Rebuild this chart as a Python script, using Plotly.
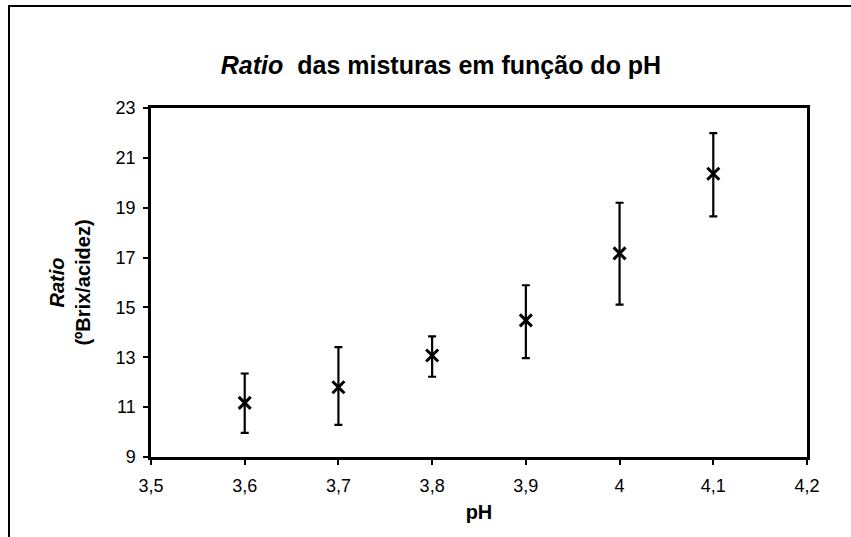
import plotly.graph_objects as go

ph = [3.6, 3.7, 3.8, 3.9, 4.0, 4.1]
ratio = [11.17, 11.80, 13.07, 14.48, 17.17, 20.36]
err_plus = [1.18, 1.61, 0.77, 1.41, 2.03, 1.63]
err_minus = [1.20, 1.51, 0.85, 1.51, 2.06, 1.71]

x_tickvals = [3.5, 3.6, 3.7, 3.8, 3.9, 4.0, 4.1, 4.2]
x_ticktext = ["3,5", "3,6", "3,7", "3,8", "3,9", "4", "4,1", "4,2"]
y_tickvals = [9, 11, 13, 15, 17, 19, 21, 23]

W, H = 851, 537
L, R, T, B = 151, 44, 108, 80
pw, ph_ = W - L - R, H - T - B

fig = go.Figure()
fig.add_trace(go.Scatter(
    x=ph, y=ratio, mode="markers",
    marker=dict(symbol="x-thin-open", size=12, color="black",
                line=dict(color="black", width=3)),
    error_y=dict(type="data", symmetric=False, array=err_plus,
                 arrayminus=err_minus, color="black", thickness=2.2, width=4),
    showlegend=False,
))

def px_to_paper_x(px):
    return (px - L) / pw

def px_to_paper_y(py):
    return (H - B - py) / ph_

FONT = "Liberation Sans, Arial"

fig.update_layout(
    width=W, height=H,
    margin=dict(l=L, r=R, t=T, b=B),
    paper_bgcolor="white", plot_bgcolor="white",
    font=dict(family=FONT, color="black", size=18),
    title=dict(text="<b><i>Ratio</i>  das misturas em função do pH</b>",
               x=px_to_paper_x(441), xref="paper", xanchor="center",
               y=1 - 65 / H, yanchor="middle",
               font=dict(size=25, family=FONT, color="black")),
    xaxis=dict(range=[3.5, 4.2], tickvals=x_tickvals, ticktext=x_ticktext,
               showgrid=False, zeroline=False, showline=True, linecolor="black",
               linewidth=2.5, mirror=True, ticks="outside", ticklen=5,
               tickwidth=2, tickcolor="black", ticklabelstandoff=6,
               tickfont=dict(size=18),
               title=dict(text="<b>pH</b>", font=dict(size=20), standoff=10)),
    yaxis=dict(range=[9, 23], tickvals=y_tickvals,
               showgrid=False, zeroline=False, showline=True, linecolor="black",
               linewidth=2.5, mirror=True, ticks="outside", ticklen=5,
               tickwidth=2, tickcolor="black", ticklabelstandoff=4,
               tickfont=dict(size=18),
               title=dict(text="<b><i>Ratio</i></b><br><b>(ºBrix/acidez)</b>",
                          font=dict(size=20), standoff=20)),
    shapes=[dict(type="rect", xref="paper", yref="paper",
                 x0=px_to_paper_x(9), x1=px_to_paper_x(870),
                 y0=px_to_paper_y(560), y1=px_to_paper_y(6),
                 line=dict(color="black", width=2), fillcolor="rgba(0,0,0,0)",
                 layer="below")],
)

fig.write_html("out.html")
